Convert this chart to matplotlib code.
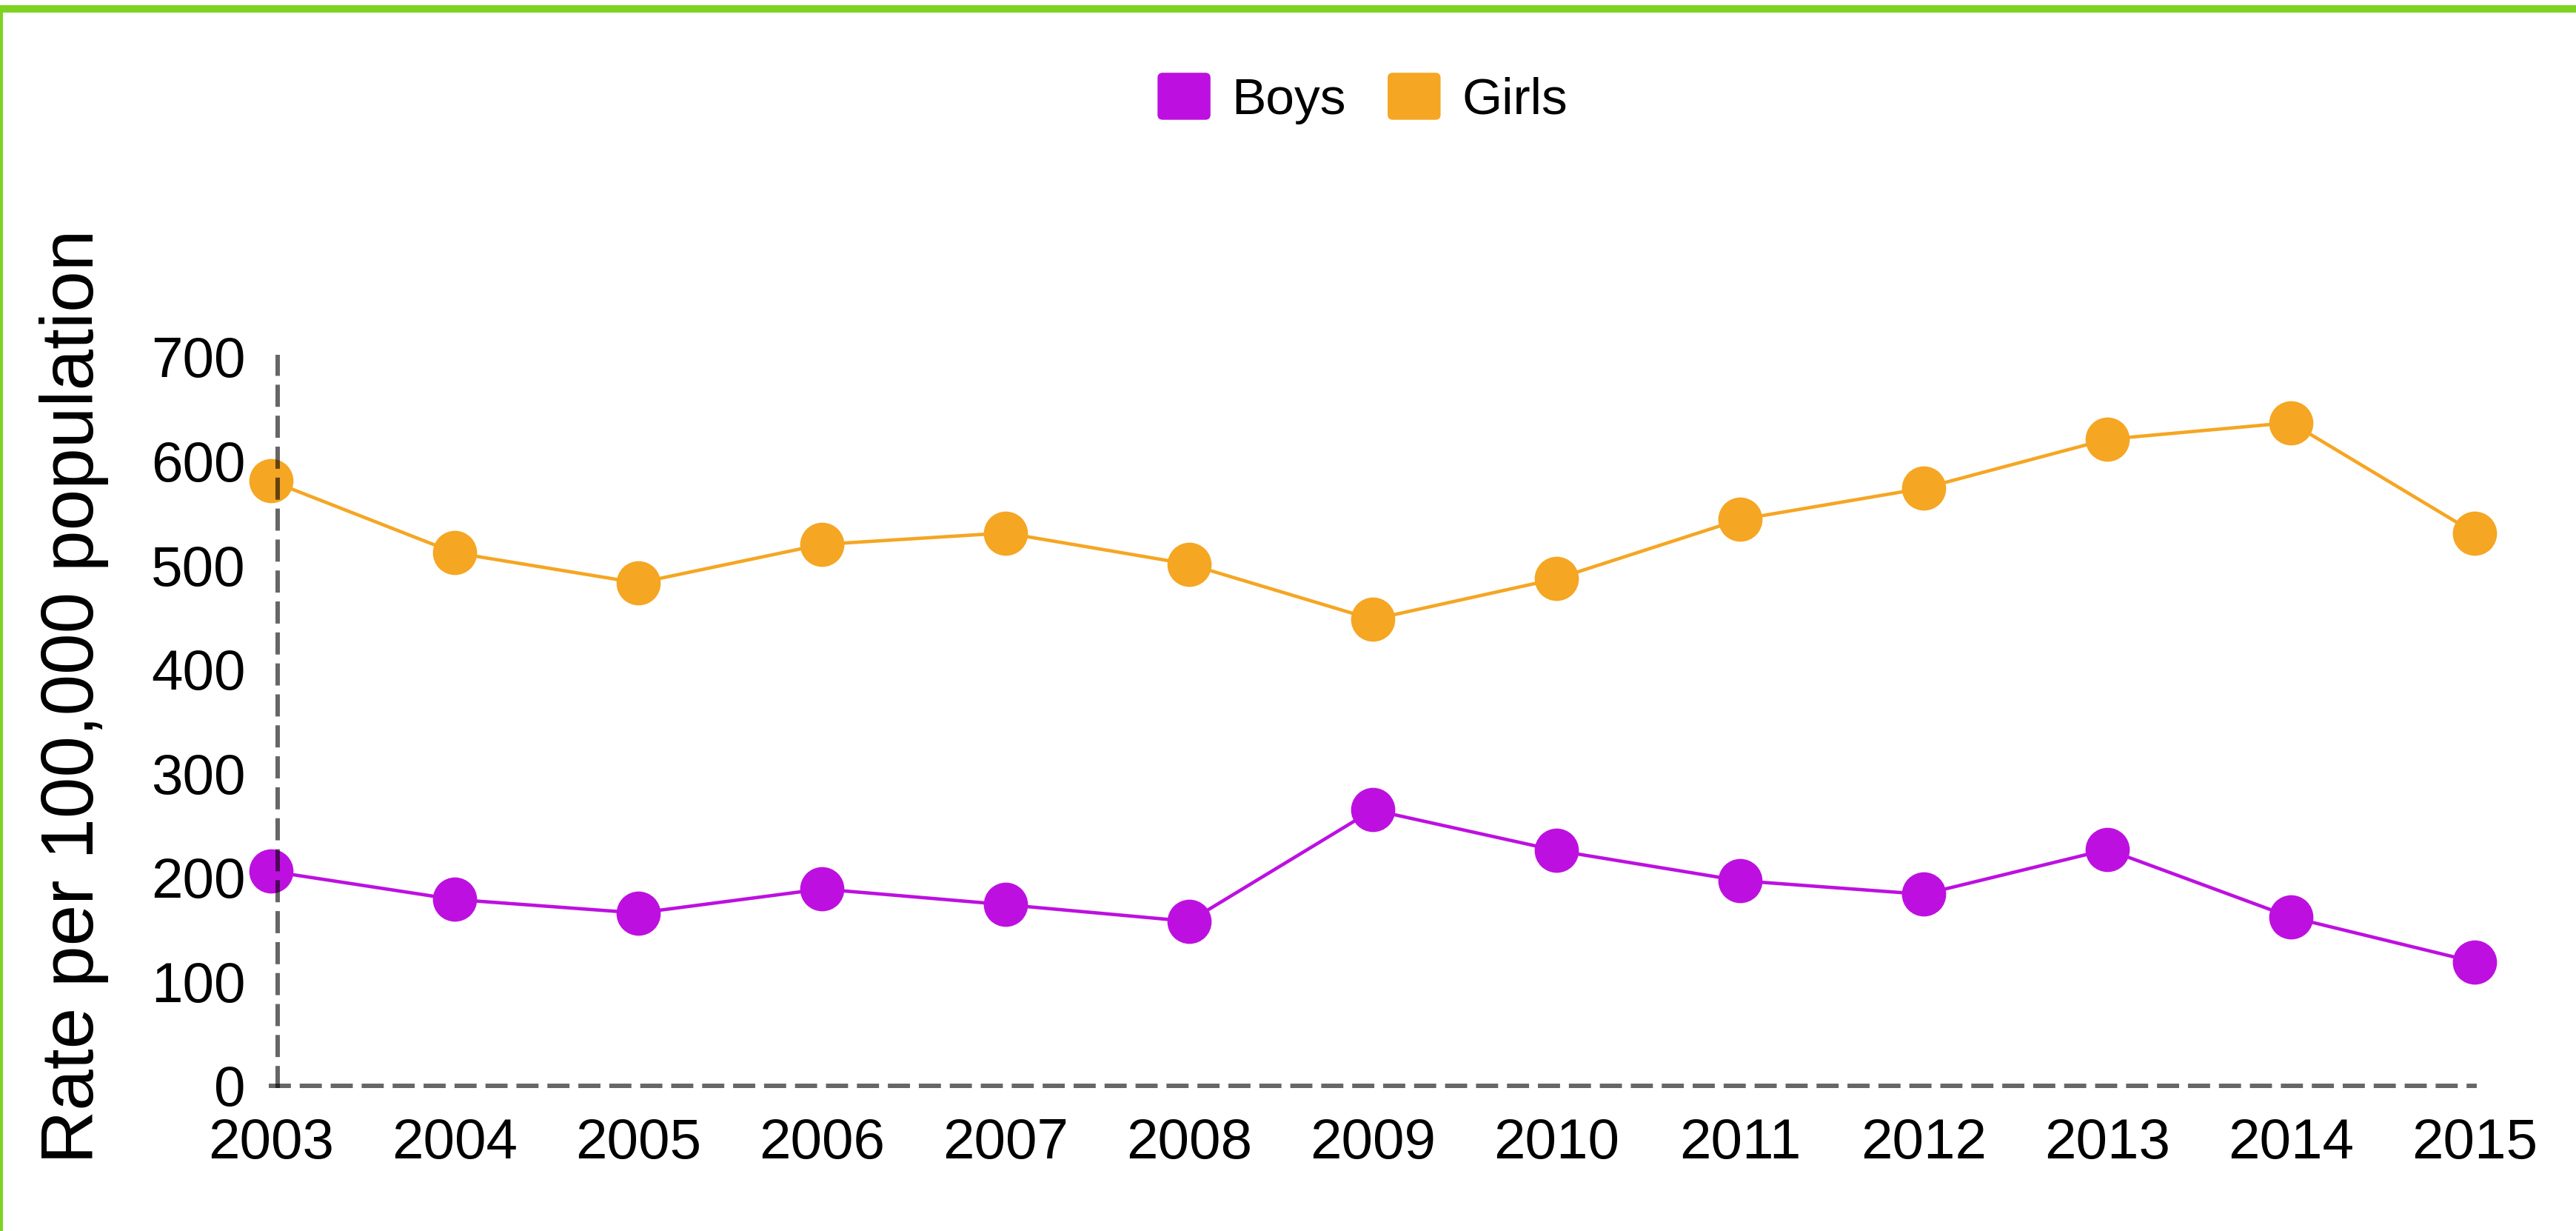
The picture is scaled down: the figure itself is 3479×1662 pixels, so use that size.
import matplotlib
matplotlib.use('Agg')
import matplotlib.pyplot as plt
from matplotlib.patches import Rectangle, FancyBboxPatch, Patch
from matplotlib.legend_handler import HandlerPatch

# data
years = [2003, 2004, 2005, 2006, 2007, 2008, 2009, 2010, 2011, 2012, 2013, 2014, 2015]
boys = [206, 179, 166, 189, 174, 158, 265, 226, 197, 184, 227, 162, 119]
girls = [581, 512, 483, 520, 531, 501, 448, 487, 544, 574, 621, 637, 531]
y_ticks = [0, 100, 200, 300, 400, 500, 600, 700]

boys_color = '#BD10E0'
girls_color = '#F5A623'
green = '#7ED321'

plt.rcParams['font.family'] = ['Liberation Sans', 'DejaVu Sans']

W, H = 3479, 1662
fig = plt.figure(figsize=(W / 100, H / 100), dpi=100)
fig.patch.set_facecolor('white')

# green frame (top and left)
fig.add_artist(Rectangle((0, 1 - 17 / H), 1, 10 / H, transform=fig.transFigure,
                         facecolor=green, edgecolor='none'))
fig.add_artist(Rectangle((0, 0), 4 / W, 1 - 7 / H, transform=fig.transFigure,
                         facecolor=green, edgecolor='none'))

ax = fig.add_axes([366 / W, 196 / H, (3342 - 366) / W, (1466 - 482) / H])

ax.plot(years, boys, color=boys_color, lw=3.3, marker='o', markersize=43,
        markeredgewidth=0, clip_on=False, zorder=3, label='Boys')
ax.plot(years, girls, color=girls_color, lw=3.3, marker='o', markersize=43,
        markeredgewidth=0, clip_on=False, zorder=3, label='Girls')

ax.set_xlim(2003, 2015)
ax.set_ylim(0, 700)
ax.set_xticks(years)
ax.set_xticklabels([str(y) for y in years])
ax.set_yticks(y_ticks)

for s in ['top', 'right']:
    ax.spines[s].set_visible(False)
for s in ['left', 'bottom']:
    ax.spines[s].set_color('black')
    ax.spines[s].set_alpha(0.6)
    ax.spines[s].set_linewidth(4.3)
    ax.spines[s].set_linestyle((0, (4.0, 3.0)))
    ax.spines[s].set_zorder(5)
ax.spines['left'].set_position(('data', 2003.036))

ax.tick_params(axis='both', length=0, labelsize=55, colors='black')
ax.tick_params(axis='y', pad=31)
ax.tick_params(axis='x', pad=31)

fig.text(100 / W, 0.434, 'Rate per 100,000 population', rotation=90,
         ha='center', va='center', fontsize=72)


def rounded_square(legend, orig_handle, xdescent, ydescent, width, height, fontsize):
    return FancyBboxPatch((-xdescent, -ydescent), width, height,
                          boxstyle='round,pad=0,rounding_size=5',
                          facecolor=orig_handle.get_facecolor(), edgecolor='none')


handles = [Patch(facecolor=boys_color, label='Boys'),
           Patch(facecolor=girls_color, label='Girls')]
fig.legend(handles=handles, loc='center', bbox_to_anchor=(0.5289, 0.920),
           ncol=2, frameon=False, fontsize=50, handlelength=1.03,
           handleheight=1.03, handletextpad=0.41, columnspacing=0.81,
           handler_map={Patch: HandlerPatch(patch_func=rounded_square)})

fig.savefig('out.png', dpi=100, facecolor='white')
